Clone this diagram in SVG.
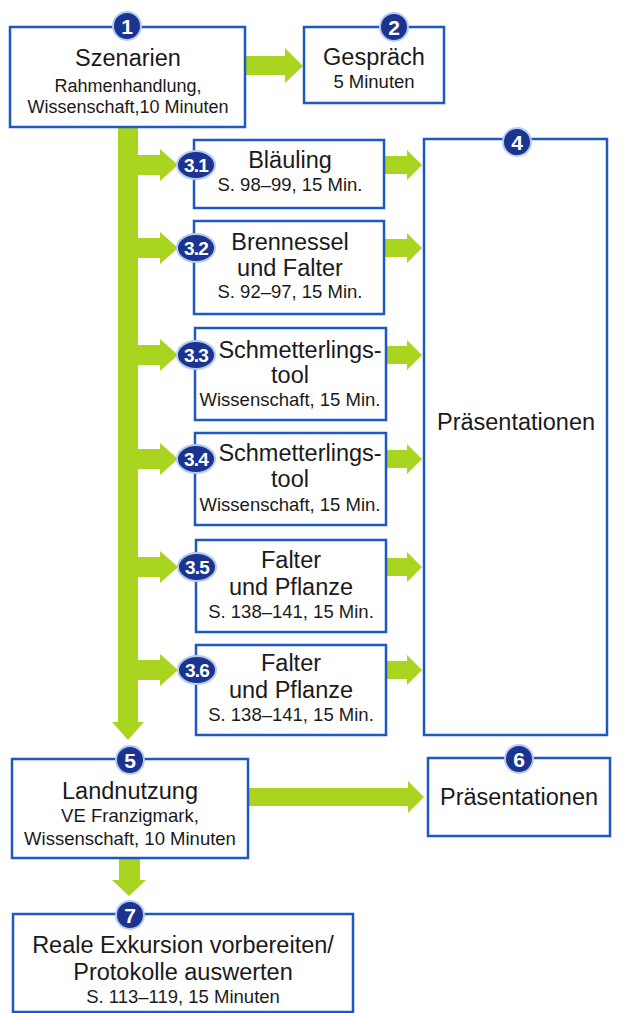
<svg xmlns="http://www.w3.org/2000/svg" width="626" height="1013" viewBox="0 0 626 1013">
<defs>
<style>
.box{fill:#fff;stroke:#1f58c0;stroke-width:2.5}
.arr{fill:#a9d41f}
.t{font-family:"Liberation Sans",Arial,sans-serif;fill:#1a1a1a;text-anchor:middle}
.m{font-size:23.5px}
.s{font-size:18.5px}
.s1{font-size:18px}
.bd{fill:#1b348f;stroke:#b4caf2;stroke-width:2}
.bn{font-family:"Liberation Sans",Arial,sans-serif;font-weight:bold;fill:#fff;text-anchor:middle;font-size:21px}
.bn3{font-family:"Liberation Sans",Arial,sans-serif;font-weight:bold;fill:#fff;text-anchor:middle;font-size:19px;letter-spacing:-0.8px}
</style>
</defs>
<rect width="626" height="1013" fill="#fff"/>
<g id="connectors">
<polygon class="arr" points="245,56 285,56 285,48 303,66 285,83 285,75 245,75"/>
<rect class="arr" x="118" y="126" width="20" height="597"/>
<polygon class="arr" points="112,722 144,722 128,740"/>
<polygon class="arr" points="137,155 160,155 160,149 178,165 160,181 160,175 137,175"/>
<polygon class="arr" points="137,238 160,238 160,232 178,248 160,264 160,258 137,258"/>
<polygon class="arr" points="137,345 160,345 160,339 178,355 160,371 160,365 137,365"/>
<polygon class="arr" points="137,449 160,449 160,443 178,459 160,475 160,469 137,469"/>
<polygon class="arr" points="137,557 160,557 160,551 178,567 160,583 160,577 137,577"/>
<polygon class="arr" points="137,660 160,660 160,654 178,670 160,686 160,680 137,680"/>
<polygon class="arr" points="385,156 407,156 407,150 422,165 407,180 407,174 385,174"/>
<polygon class="arr" points="385,239 407,239 407,233 422,248 407,263 407,257 385,257"/>
<polygon class="arr" points="386,346 407,346 407,340 422,355 407,370 407,364 386,364"/>
<polygon class="arr" points="386,450 407,450 407,444 422,459 407,474 407,468 386,468"/>
<polygon class="arr" points="386,558 407,558 407,552 422,567 407,582 407,576 386,576"/>
<polygon class="arr" points="386,661 407,661 407,655 422,670 407,685 407,679 386,679"/>
<polygon class="arr" points="248,788 408,788 408,781 424,797 408,813 408,806 248,806"/>
<polygon class="arr" points="119,858 140,858 140,880 146,880 129,896 112,880 119,880"/>
</g>
<g id="n1">
<rect class="box" x="10" y="27" width="235" height="100"/>
<text class="t m" x="128" y="66">Szenarien</text>
<text class="t s1" x="128" y="92">Rahmenhandlung,</text>
<text class="t s1" x="128" y="113">Wissenschaft,10 Minuten</text>
<circle class="bd" cx="127" cy="26" r="14"/>
<text class="bn" x="127" y="33.5">1</text>
</g>
<g id="n2">
<rect class="box" x="304" y="27" width="140" height="76"/>
<text class="t m" x="374" y="65">Gespräch</text>
<text class="t s" x="374" y="88">5 Minuten</text>
<circle class="bd" cx="394" cy="27" r="14"/>
<text class="bn" x="394" y="34.5">2</text>
</g>
<g id="n31">
<rect class="box" x="194" y="140" width="190" height="68"/>
<text class="t m" x="290" y="168">Bläuling</text>
<text class="t s" x="290" y="191">S. 98–99, 15 Min.</text>
<ellipse class="bd" cx="196" cy="165" rx="19" ry="14"/>
<text class="bn3" x="196" y="171.5">3.1</text>
</g>
<g id="n32">
<rect class="box" x="194" y="221" width="190" height="93"/>
<text class="t m" x="290" y="250">Brennessel</text>
<text class="t m" x="290" y="276">und Falter</text>
<text class="t s" x="290" y="298">S. 92–97, 15 Min.</text>
<ellipse class="bd" cx="196" cy="248" rx="19" ry="14"/>
<text class="bn3" x="196" y="254.5">3.2</text>
</g>
<g id="n33">
<rect class="box" x="195" y="328" width="191" height="92"/>
<text class="t m" x="300" y="358">Schmetterlings-</text>
<text class="t m" x="290" y="383">tool</text>
<text class="t s" x="290" y="406">Wissenschaft, 15 Min.</text>
<ellipse class="bd" cx="196" cy="355" rx="19" ry="14"/>
<text class="bn3" x="196" y="361.5">3.3</text>
</g>
<g id="n34">
<rect class="box" x="195" y="433" width="191" height="92"/>
<text class="t m" x="300" y="461">Schmetterlings-</text>
<text class="t m" x="290" y="487">tool</text>
<text class="t s" x="290" y="511">Wissenschaft, 15 Min.</text>
<ellipse class="bd" cx="196" cy="459" rx="19" ry="14"/>
<text class="bn3" x="196" y="465.5">3.4</text>
</g>
<g id="n35">
<rect class="box" x="196" y="540" width="190" height="92"/>
<text class="t m" x="291" y="568">Falter</text>
<text class="t m" x="291" y="595">und Pflanze</text>
<text class="t s" x="291" y="618">S. 138–141, 15 Min.</text>
<ellipse class="bd" cx="197" cy="567" rx="19" ry="14"/>
<text class="bn3" x="197" y="573.5">3.5</text>
</g>
<g id="n36">
<rect class="box" x="196" y="645" width="190" height="90"/>
<text class="t m" x="291" y="671">Falter</text>
<text class="t m" x="291" y="698">und Pflanze</text>
<text class="t s" x="291" y="721">S. 138–141, 15 Min.</text>
<ellipse class="bd" cx="197" cy="670" rx="19" ry="14"/>
<text class="bn3" x="197" y="676.5">3.6</text>
</g>
<g id="n4">
<rect class="box" x="424" y="139" width="183" height="596"/>
<text class="t m" x="516" y="430">Präsentationen</text>
<circle class="bd" cx="517" cy="142" r="14"/>
<text class="bn" x="517" y="149.5">4</text>
</g>
<g id="n5">
<rect class="box" x="12" y="759" width="236" height="99"/>
<text class="t m" x="130" y="799">Landnutzung</text>
<text class="t s" x="130" y="822">VE Franzigmark,</text>
<text class="t s" x="130" y="845">Wissenschaft, 10 Minuten</text>
<circle class="bd" cx="130" cy="760" r="14"/>
<text class="bn" x="130" y="767.5">5</text>
</g>
<g id="n6">
<rect class="box" x="428" y="758" width="182" height="78"/>
<text class="t m" x="519" y="805">Präsentationen</text>
<circle class="bd" cx="519" cy="759" r="14"/>
<text class="bn" x="519" y="766.5">6</text>
</g>
<g id="n7">
<rect class="box" x="13" y="914" width="340" height="98"/>
<text class="t m" x="183" y="953">Reale Exkursion vorbereiten/</text>
<text class="t m" x="183" y="980">Protokolle auswerten</text>
<text class="t s" x="183" y="1003">S. 113–119, 15 Minuten</text>
<circle class="bd" cx="130" cy="915" r="14"/>
<text class="bn" x="130" y="922.5">7</text>
</g>
</svg>
